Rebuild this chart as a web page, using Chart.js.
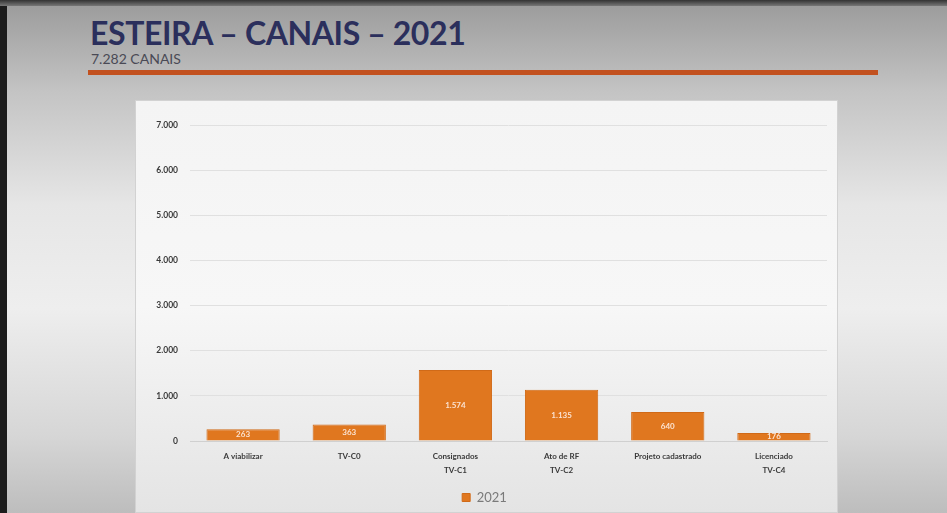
<!DOCTYPE html>
<html>
<head>
<meta charset="utf-8">
<script src="https://cdn.jsdelivr.net/npm/chart.js@4"></script>
<style>
  html, body { margin: 0; padding: 0; }
  body {
    width: 947px; height: 513px; overflow: hidden; position: relative;
    background: linear-gradient(to bottom, #9a9a9a 0%, #c4c4c4 18%, #e6e6e6 40%, #eeeeee 60%, #d6d6d6 85%, #bdbdbd 100%);
    font-family: Lato, "Open Sans", sans-serif;
  }
  #edge-left { position: absolute; left: 0; top: 0; width: 7px; height: 513px; background: #1c1c1c; }
  #edge-top { position: absolute; left: 0; top: 0; width: 947px; height: 6px; background: linear-gradient(to bottom, #333, #777); }
  #title { position: absolute; left: 90px; top: 13px; font-size: 32px; font-weight: bold; color: #2b2f5c; letter-spacing: -0.4px; }
  #subtitle { position: absolute; left: 91px; top: 50px; font-size: 14px; color: #4a4a55; }
  #rule { position: absolute; left: 88px; top: 70px; width: 790px; height: 5px; background: #c2511f; }
  #panel {
    position: absolute; left: 135px; top: 100px; width: 703px; height: 413px;
    background: linear-gradient(to bottom, #f4f4f4 0%, #f7f7f7 50%, #e4e4e4 100%);
    border: 1px solid #d2d2d2; box-sizing: border-box;
  }
</style>
</head>
<body>
<div id="edge-left"></div>
<div id="edge-top"></div>
<div id="title">ESTEIRA – CANAIS – 2021</div>
<div id="subtitle">7.282 CANAIS</div>
<div id="rule"></div>
<div id="panel"><canvas id="chart" width="703" height="413"></canvas></div>
<script>
const categories = [
  "A viabilizar",
  "TV-C0",
  ["Consignados", "TV-C1"],
  ["Ato de RF", "TV-C2"],
  "Projeto cadastrado",
  ["Licenciado", "TV-C4"]
];
const values2021 = [263, 363, 1574, 1135, 640, 176];
const yTicks = [0, 1000, 2000, 3000, 4000, 5000, 6000, 7000];

const fmt = (v) => v.toLocaleString("de-DE");

// write the value in the middle of each bar
const barLabels = {
  id: "barLabels",
  afterDatasetsDraw(chart) {
    const ctx = chart.ctx;
    const meta = chart.getDatasetMeta(0);
    ctx.save();
    ctx.font = "bold 8px Lato, sans-serif";
    ctx.fillStyle = "#fbe3d2";
    ctx.textAlign = "center";
    ctx.textBaseline = "middle";
    meta.data.forEach((bar, i) => {
      ctx.fillText(fmt(values2021[i]), bar.x, (bar.y + bar.base) / 2);
    });
    ctx.restore();
  }
};

new Chart(document.getElementById("chart"), {
  type: "bar",
  data: {
    labels: categories,
    datasets: [{
      label: "2021",
      data: values2021,
      backgroundColor: "#e0771f",
      borderColor: "#d06a18",
      borderWidth: 1,
      barPercentage: 0.69,
      categoryPercentage: 1
    }]
  },
  options: {
    responsive: false,
    animation: false,
    layout: { padding: { left: 6, right: 12, top: 24, bottom: 0 } },
    plugins: {
      legend: {
        position: "bottom",
        labels: {
          boxWidth: 8, boxHeight: 8, padding: 6,
          color: "#7a7a7a",
          font: { size: 13, family: "Lato, sans-serif" }
        }
      },
      tooltip: { enabled: false }
    },
    scales: {
      x: {
        grid: { display: false, drawTicks: false },
        border: { color: "#d0d0d0" },
        ticks: {
          color: "#3a3a3a", maxRotation: 0, autoSkip: false, padding: 8,
          font: { size: 8, weight: "bold", family: "Lato, sans-serif", lineHeight: 1.75 }
        }
      },
      y: {
        min: 0, max: 7000,
        afterBuildTicks: (axis) => { axis.ticks = yTicks.map(v => ({ value: v })); },
        afterFit: (axis) => { axis.width = 48; },
        grid: { color: "#e0e0e0", drawTicks: false },
        border: { display: false },
        ticks: {
          color: "#3a3a3a", padding: 12,
          font: { size: 8.5, weight: "bold", family: "Lato, sans-serif" },
          callback: (v) => fmt(v)
        }
      }
    }
  },
  plugins: [barLabels]
});
</script>
</body>
</html>
